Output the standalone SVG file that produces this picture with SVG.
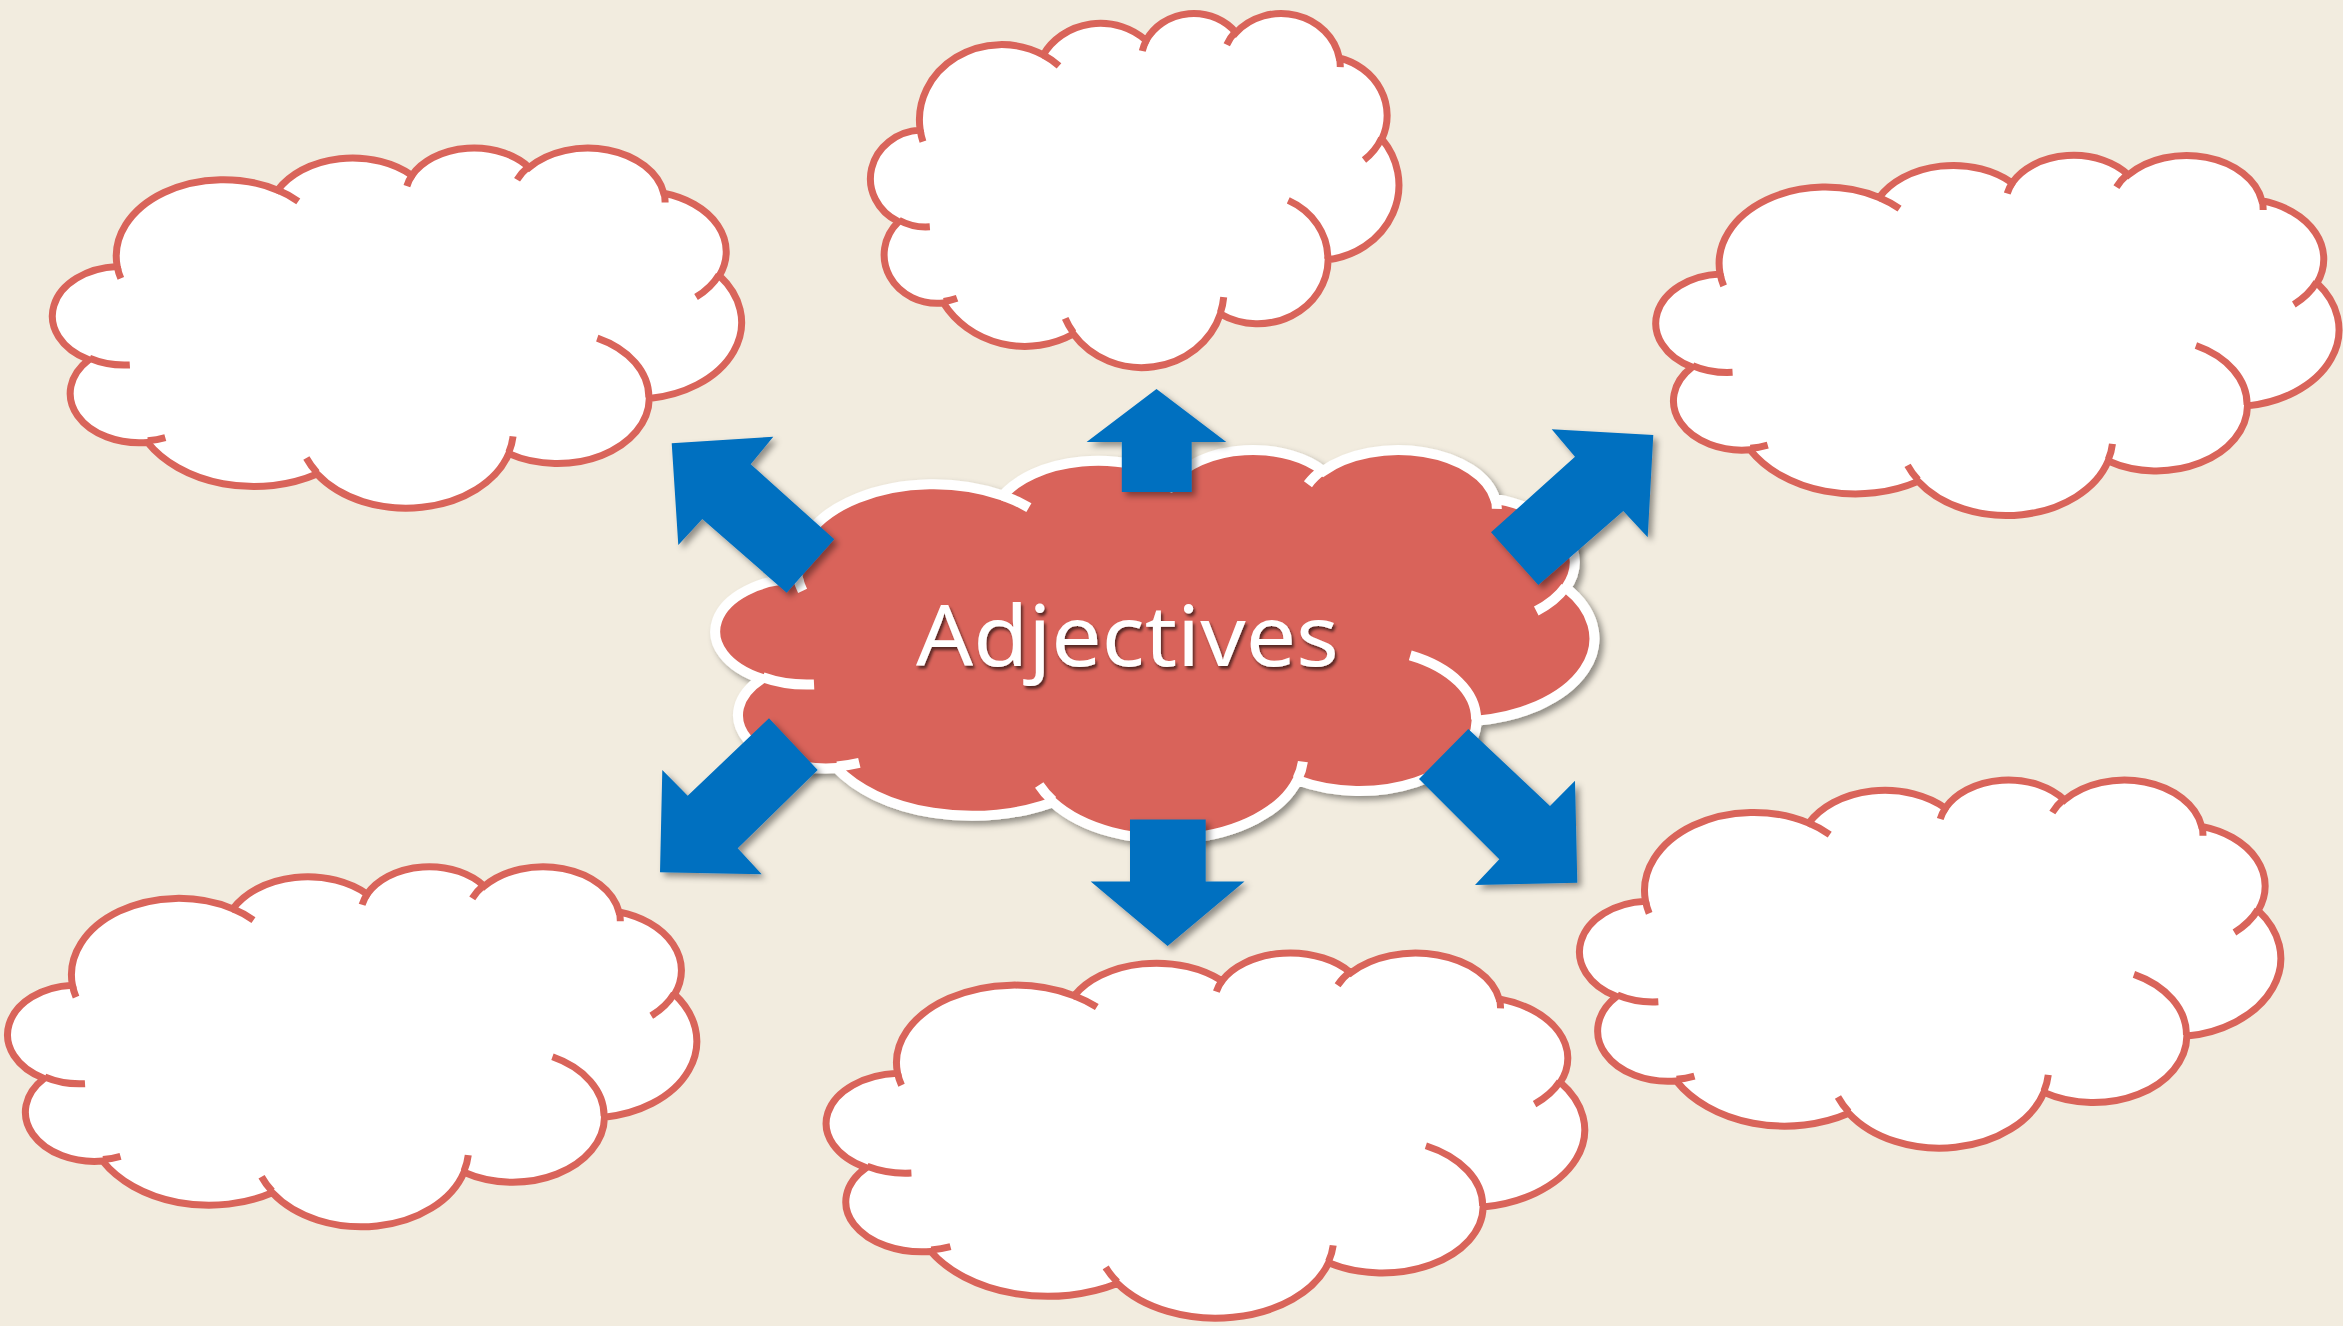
<svg xmlns="http://www.w3.org/2000/svg" xmlns:xlink="http://www.w3.org/1999/xlink" width="2343" height="1326" viewBox="0 0 2343 1326">
<style>
.bg{fill:#F2ECDF}
.co{fill:#FFFFFF;stroke:#D9645A;stroke-width:7}
.ci{fill:none;stroke:#D9645A;stroke-width:7}
.main .co{fill:#D9645A;stroke:#FFFFFF;stroke-width:10}
.main .ci{fill:none;stroke:#FFFFFF;stroke-width:10}
.arrow{fill:#0070C0}
.title{font-family:"Comic Sans MS","Noto Sans","DejaVu Sans",sans-serif;font-size:84px;fill:#FFFFFF;text-anchor:middle}
</style>
<defs>
<path id="cloudOutline" vector-effect="non-scaling-stroke" d="M 9.028 33.264 A 15.632 21.273 0 0 1 32.420 12.043 A 12.345 16.822 0 0 1 51.983 7.948 A 10.104 13.762 0 0 1 69.061 5.747 A 11.243 15.266 0 0 1 88.703 12.911 A 12.345 16.836 0 0 1 96.805 35.790 A 15.683 21.343 0 0 1 86.585 69.914 A 13.391 18.211 0 0 1 66.104 85.215 A 15.630 21.331 0 0 1 38.151 90.891 A 17.870 24.405 0 0 1 13.440 82.111 A 10.093 13.699 0 0 1 4.894 59.146 A 10.058 13.762 0 0 1 9.028 33.264 Z"/>
<path id="cloudInner" vector-effect="non-scaling-stroke" d="M 10.863 60.595 A 10.058 13.762 0 0 1 5.000 58.750 M 16.037 80.785 A 10.093 13.699 0 0 1 13.471 81.668 M 38.144 90.486 A 15.630 21.331 0 0 1 36.597 86.455 M 66.729 80.442 A 15.630 21.331 0 0 1 66.113 84.860 M 79.002 53.134 A 13.391 18.211 0 0 1 86.528 69.651 M 96.755 35.542 A 12.345 16.836 0 0 1 93.403 41.736 M 88.713 12.560 A 11.243 15.266 0 0 1 88.890 15.485 M 67.310 9.148 A 11.243 15.266 0 0 1 69.026 5.420 M 51.252 10.926 A 10.104 13.762 0 0 1 52.083 7.709 M 32.407 12.019 A 15.632 21.273 0 0 1 35.417 15.141 M 9.553 36.549 A 15.632 21.273 0 0 1 9.028 33.266"/>
<filter id="shadow" x="-10%" y="-10%" width="125%" height="125%" filterUnits="objectBoundingBox">
<feDropShadow dx="4" dy="4" stdDeviation="3" flood-color="#000000" flood-opacity="0.4"/>
</filter>
<filter id="textShadow" x="-10%" y="-20%" width="125%" height="150%">
<feDropShadow dx="2" dy="3" stdDeviation="1.5" flood-color="#000000" flood-opacity="0.6"/>
</filter>
</defs>
<rect class="bg" x="0" y="0" width="2343" height="1326"/>

<g id="cloud-top">
<g transform="translate(872.7,12.3) scale(5.26,3.54)"><use href="#cloudOutline" class="co"/><use href="#cloudInner" class="ci"/></g>
</g>
<g id="cloud-top-left">
<g transform="translate(55.3,146.8) scale(6.86,3.6)"><use href="#cloudOutline" class="co"/><use href="#cloudInner" class="ci"/></g>
</g>
<g id="cloud-top-right">
<g transform="translate(1658.7,154.2) scale(6.8,3.6)"><use href="#cloudOutline" class="co"/><use href="#cloudInner" class="ci"/></g>
</g>
<g id="cloud-bottom-left">
<g transform="translate(10.5,865.5) scale(6.86,3.6)"><use href="#cloudOutline" class="co"/><use href="#cloudInner" class="ci"/></g>
</g>
<g id="cloud-bottom-center">
<g transform="translate(829.4,951.8) scale(7.55,3.65)"><use href="#cloudOutline" class="co"/><use href="#cloudInner" class="ci"/></g>
</g>
<g id="cloud-bottom-right">
<g transform="translate(1582.5,778.8) scale(6.98,3.68)"><use href="#cloudOutline" class="co"/><use href="#cloudInner" class="ci"/></g>
</g>
<g id="cloud-center" class="main">
<g filter="url(#shadow)">
<g transform="translate(719,448.7) scale(8.75,3.89)"><use href="#cloudOutline" class="co"/><use href="#cloudInner" class="ci"/></g>
</g>
<text class="title" x="1127.5" y="666" textLength="423" lengthAdjust="spacingAndGlyphs" filter="url(#textShadow)">Adjectives</text>
</g>

<g id="connectors" filter="url(#shadow)">
<polygon class="arrow" points="1156.5,389 1226.3,442 1191.7,442 1191.7,492 1121.8,492 1121.8,442 1086.6,442"/>
<polygon class="arrow" points="1130,819.5 1205.7,819.5 1205.7,881.6 1244.5,881.6 1167.6,946 1090.7,881.6 1130,881.6"/>
<polygon class="arrow" points="671.7,443.3 773.3,436.7 750.7,464.3 834.3,539.3 786.7,592.7 702.3,519 678.3,545"/>
<polygon class="arrow" points="1551.7,429.3 1653.3,435 1647.7,537.3 1623.3,511 1538.3,585 1491,532.3 1575,456.7"/>
<polygon class="arrow" points="769,718.3 817.7,770 737.7,848.3 761.7,874.3 660,872.3 662.3,770 687.7,795.7"/>
<polygon class="arrow" points="1468.3,729 1550,806 1575,780.7 1577.3,882.7 1475,885 1499.3,859.3 1419,779"/>
</g>
</svg>
